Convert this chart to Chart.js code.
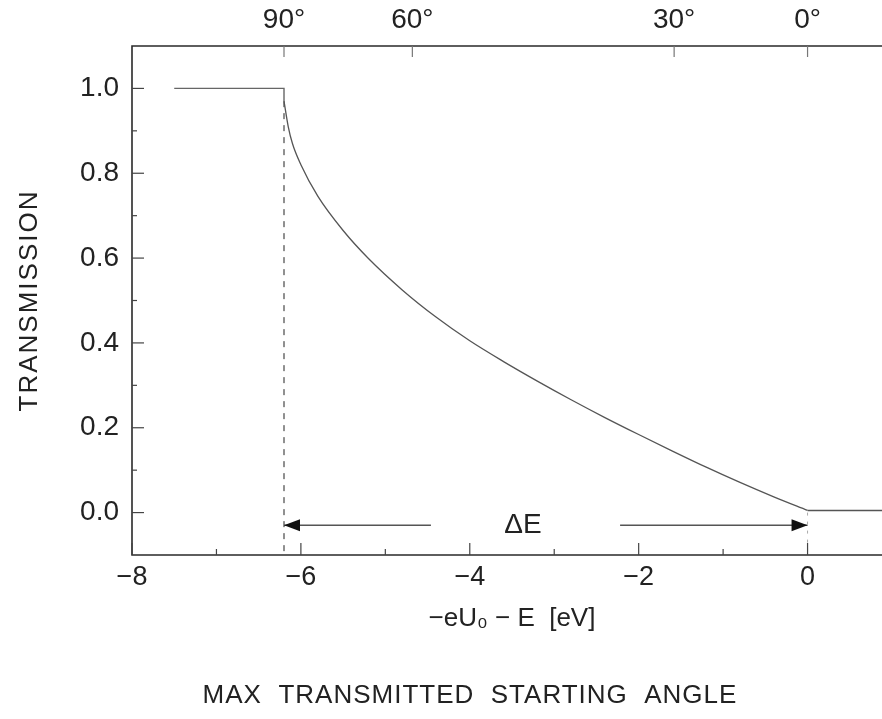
<!DOCTYPE html>
<html><head><meta charset="utf-8">
<script src="https://cdn.jsdelivr.net/npm/chart.js@4/dist/chart.umd.min.js"></script>
<style>
html,body{margin:0;padding:0;background:#fff;overflow:hidden;width:882px;height:719px;}
#wrap{position:absolute;left:0;top:0;width:900px;height:719px;}
</style></head><body>
<div id="wrap"><canvas id="c" width="900" height="719"></canvas></div>
<script>
// ---- data ----
const plateauX = [-7.5, -6.2, -6.2];
const plateauY = [1.0, 1.0, 0.97];
const curveX = [-6.2, -6.15, -6.1, -6.0, -5.8, -5.5, -5.2, -4.8, -4.4, -4.0, -3.6, -3.2, -2.8, -2.4, -2.0, -1.6, -1.2, -0.8, -0.4, 0.0];
const curveY = [0.97, 0.91, 0.87, 0.82, 0.746, 0.665, 0.599, 0.525, 0.461, 0.405, 0.356, 0.310, 0.266, 0.224, 0.184, 0.145, 0.107, 0.071, 0.037, 0.005];
const tailX = [0.0, 1.0];
const tailY = [0.005, 0.005];
const cutoffX = -6.2;           // 90 degree cutoff (dashed)
const cutoffSpanY = [0.97, -0.1];
const zeroSpanY = [0.0, -0.1];
const arrowY = -0.03;
const leftArrowX = [-6.2, -4.46];
const rightArrowX = [-2.22, 0.0];
const deltaLabelX = -3.37;
const angleLabels = ['90', '60', '30', '0'];
const anglePos = [-6.2, -4.68, -1.58, 0.0];
const xMajorTicks = [-8, -6, -4, -2, 0];
const yMajorTicks = [0.0, 0.2, 0.4, 0.6, 0.8, 1.0];

const pts = (xs, ys) => xs.map((x, i) => ({x, y: ys[i]}));
const FONT = '"Liberation Sans", Arial, sans-serif';

const decor = {
  id: 'decor',
  afterDatasetsDraw(chart) {
    const ctx = chart.ctx;
    const xs = chart.scales.x, ys = chart.scales.y, xt = chart.scales.xTop;
    const {left, right, top, bottom} = chart.chartArea;
    ctx.save();
    ctx.strokeStyle = '#2a2a2a';
    ctx.lineWidth = 1.6;
    ctx.beginPath();
    ctx.moveTo(right + 20, top); ctx.lineTo(left, top); ctx.lineTo(left, bottom); ctx.lineTo(right + 20, bottom);
    ctx.stroke();
    ctx.lineWidth = 1.2;
    ctx.strokeStyle = '#444';
    // bottom ticks
    for (let v = -8; v <= 1; v++) {
      const px = xs.getPixelForValue(v);
      const len = xMajorTicks.includes(v) ? 12 : 6;
      ctx.beginPath(); ctx.moveTo(px, bottom); ctx.lineTo(px, bottom - len); ctx.stroke();
    }
    // left ticks
    for (let k = 0; k <= 10; k++) {
      const v = k / 10;
      const py = ys.getPixelForValue(v);
      const len = (k % 2 === 0) ? 12 : 5;
      ctx.beginPath(); ctx.moveTo(left, py); ctx.lineTo(left + len, py); ctx.stroke();
    }
    // top ticks
    ctx.strokeStyle = '#777';
    anglePos.forEach(v => {
      const px = xt.getPixelForValue(v);
      ctx.beginPath(); ctx.moveTo(px, top); ctx.lineTo(px, top + 11); ctx.stroke();
    });
    // arrow heads
    ctx.fillStyle = '#111';
    const ay = ys.getPixelForValue(arrowY);
    const tipL = xs.getPixelForValue(leftArrowX[0]);
    ctx.beginPath(); ctx.moveTo(tipL, ay); ctx.lineTo(tipL + 16, ay - 6); ctx.lineTo(tipL + 16, ay + 6); ctx.closePath(); ctx.fill();
    const tipR = xs.getPixelForValue(rightArrowX[1]);
    ctx.beginPath(); ctx.moveTo(tipR, ay); ctx.lineTo(tipR - 16, ay - 6); ctx.lineTo(tipR - 16, ay + 6); ctx.closePath(); ctx.fill();
    // delta E label
    ctx.fillStyle = '#222';
    ctx.font = '28px ' + FONT;
    ctx.textAlign = 'center'; ctx.textBaseline = 'middle';
    ctx.fillText('ΔE', xs.getPixelForValue(deltaLabelX), ay);
    // axis titles
    ctx.font = '26px ' + FONT;
    ctx.fillText('−eU\u2080 − E  [eV]', (left + right) / 2, 619);
    ctx.letterSpacing = '1px';
    ctx.fillText('MAX  TRANSMITTED  STARTING  ANGLE', 470, 696);
    ctx.save();
    ctx.translate(30, (top + bottom) / 2);
    ctx.rotate(-Math.PI / 2);
    ctx.letterSpacing = '2px';
    ctx.fillText('TRANSMISSION', 0, 0);
    ctx.restore();
    ctx.restore();
  }
};

new Chart(document.getElementById('c'), {
  type: 'scatter',
  data: {
    datasets: [
      {data: pts(plateauX, plateauY), showLine: true, borderColor: '#666', borderWidth: 1.4, pointRadius: 0, tension: 0},
      {data: pts(curveX, curveY), showLine: true, borderColor: '#555', borderWidth: 1.3, pointRadius: 0, cubicInterpolationMode: 'monotone'},
      {data: pts(tailX, tailY), showLine: true, borderColor: '#555', borderWidth: 1.4, pointRadius: 0},
      {data: pts([cutoffX, cutoffX], cutoffSpanY), showLine: true, borderColor: '#555', borderWidth: 1.3, borderDash: [6, 6], pointRadius: 0},
      {data: pts([0, 0], zeroSpanY), showLine: true, borderColor: '#aaa', borderWidth: 1, borderDash: [3, 6], pointRadius: 0},
      {data: pts(leftArrowX, [arrowY, arrowY]), showLine: true, borderColor: '#555', borderWidth: 1.4, pointRadius: 0},
      {data: pts(rightArrowX, [arrowY, arrowY]), showLine: true, borderColor: '#555', borderWidth: 1.4, pointRadius: 0}
    ]
  },
  options: {
    responsive: false,
    animation: false,
    events: [],
    layout: {padding: {left: 0, right: 8, top: 0, bottom: 0}},
    plugins: {legend: {display: false}, tooltip: {enabled: false}},
    scales: {
      x: {
        type: 'linear', position: 'bottom', min: -8, max: 1,
        grid: {display: false, drawTicks: false}, border: {display: false},
        afterBuildTicks: s => { s.ticks = xMajorTicks.map(v => ({value: v})); },
        ticks: {color: '#222', font: {family: FONT, size: 27}, padding: 6, maxRotation: 0, autoSkip: false,
          callback: v => (v < 0 ? '−' + Math.abs(v) : String(v))},
        afterFit: s => { s.height = 164; }
      },
      xTop: {
        type: 'linear', position: 'top', min: -8, max: 1,
        grid: {display: false, drawTicks: false}, border: {display: false},
        afterBuildTicks: s => { s.ticks = anglePos.map(v => ({value: v})); },
        ticks: {color: '#222', font: {family: FONT, size: 28}, padding: 9, maxRotation: 0, autoSkip: false,
          callback: (v, i) => angleLabels[i] + '°'},
        afterFit: s => { s.height = 46; }
      },
      y: {
        type: 'linear', min: -0.1, max: 1.1,
        grid: {display: false, drawTicks: false}, border: {display: false},
        afterBuildTicks: s => { s.ticks = yMajorTicks.map(v => ({value: v})); },
        ticks: {color: '#222', font: {family: FONT, size: 28}, padding: 13, autoSkip: false,
          callback: v => v.toFixed(1)},
        afterFit: s => { s.width = 132; }
      }
    }
  },
  plugins: [decor]
});
</script>
</body></html>
